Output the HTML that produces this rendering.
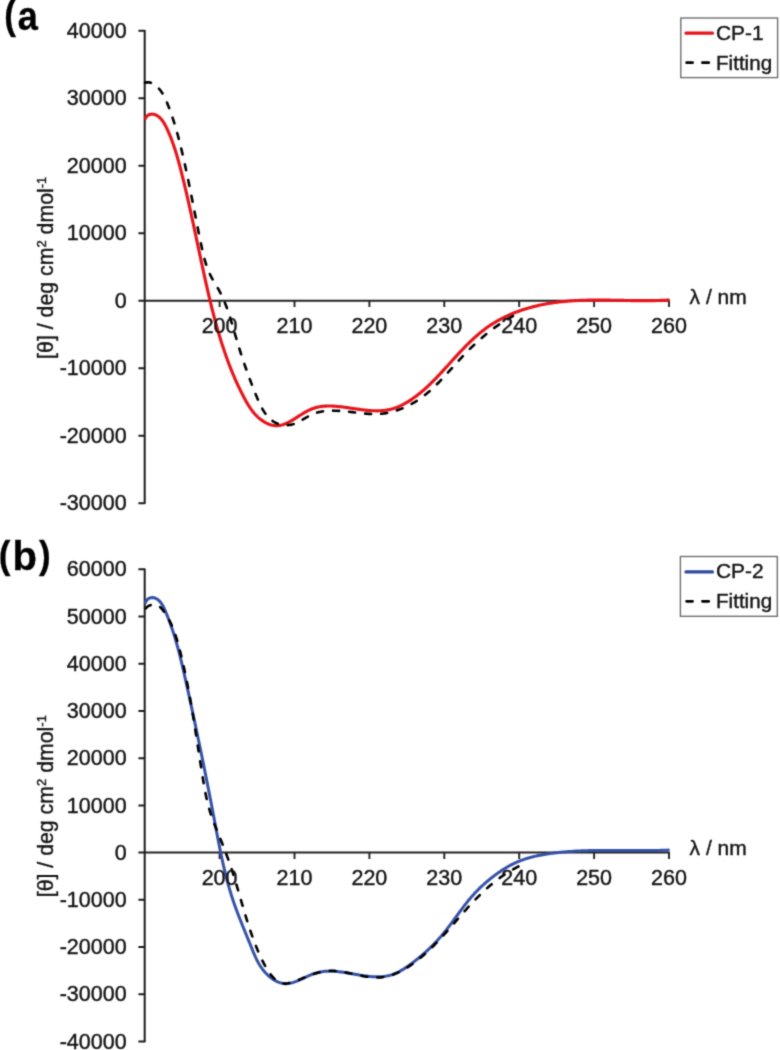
<!DOCTYPE html>
<html><head><meta charset="utf-8"><title>CD spectra</title>
<style>
html,body{margin:0;padding:0;background:#fff;}
body{width:780px;height:1050px;overflow:hidden;font-family:"Liberation Sans", sans-serif;}
svg{display:block;}
text{stroke:#141414;stroke-width:0.4px;}

</style></head><body>
<svg width="780" height="1050" viewBox="0 0 780 1050" font-family='"Liberation Sans", sans-serif' font-size="21.5" fill="#141414">
<defs><filter id="bl" x="0" y="0" width="780" height="1050" filterUnits="userSpaceOnUse" color-interpolation-filters="sRGB"><feConvolveMatrix order="3" kernelMatrix="0.0622 0.2494 0.0622 0.2494 1.0000 0.2494 0.0622 0.2494 0.0622" edgeMode="none"/></filter></defs>
<rect width="780" height="1050" fill="#fff"/>
<g filter="url(#bl)">
<path d="M144.70,30.00 V504.10" stroke="#1c1c1c" stroke-width="2" fill="none"/>
<path d="M144.70,503.30 H138.40 M144.70,435.80 H138.40 M144.70,368.30 H138.40 M144.70,300.80 H138.40 M144.70,233.30 H138.40 M144.70,165.80 H138.40 M144.70,98.30 H138.40 M144.70,30.80 H138.40" stroke="#1c1c1c" stroke-width="2" fill="none"/>
<path d="M144.70,300.80 H669.80" stroke="#222" stroke-width="2" fill="none"/>
<path d="M219.60,300.80 V307.10 M294.50,300.80 V307.10 M369.40,300.80 V307.10 M444.30,300.80 V307.10 M519.20,300.80 V307.10 M594.10,300.80 V307.10 M669.00,300.80 V307.10" stroke="#222" stroke-width="1.9" fill="none"/>
<path d="M144.98,119.44 L145.59,117.98 146.39,116.76 147.34,115.78 148.42,115.04 149.59,114.51 150.81,114.20 152.07,114.11 153.33,114.21 154.56,114.50 155.75,114.95 156.89,115.53 157.97,116.20 158.98,116.97 159.94,117.81 160.84,118.73 161.69,119.71 162.50,120.76 163.26,121.85 163.98,122.99 164.67,124.17 165.33,125.38 165.96,126.62 166.57,127.87 167.16,129.12 167.73,130.38 168.30,131.64 168.84,132.90 169.38,134.16 169.90,135.42 170.41,136.68 170.91,137.94 171.40,139.20 171.87,140.46 172.34,141.72 172.80,142.97 173.24,144.23 173.68,145.49 174.11,146.75 174.52,148.01 174.93,149.27 175.34,150.52 175.73,151.78 176.12,153.04 176.50,154.30 176.87,155.56 177.24,156.82 177.60,158.08 177.96,159.35 178.31,160.61 178.66,161.87 179.00,163.13 179.34,164.40 179.68,165.66 180.01,166.93 180.34,168.19 180.67,169.46 180.99,170.73 181.32,172.00 181.64,173.27 181.96,174.54 182.28,175.81 182.59,177.08 182.91,178.35 183.22,179.62 183.53,180.90 183.84,182.17 184.15,183.45 184.46,184.73 184.77,186.00 185.07,187.28 185.37,188.56 185.68,189.84 185.98,191.12 186.28,192.40 186.57,193.68 186.87,194.96 187.17,196.24 187.46,197.53 187.76,198.81 188.05,200.09 188.34,201.38 188.63,202.66 188.92,203.95 189.21,205.24 189.49,206.52 189.78,207.81 190.07,209.10 190.35,210.39 190.63,211.67 190.92,212.96 191.20,214.25 191.48,215.54 191.76,216.83 192.04,218.12 192.32,219.41 192.60,220.71 192.88,222.00 193.16,223.29 193.44,224.58 193.71,225.87 193.99,227.17 194.27,228.46 194.54,229.75 194.82,231.05 195.10,232.34 195.37,233.63 195.65,234.93 195.92,236.22 196.19,237.52 196.47,238.81 196.74,240.11 197.02,241.40 197.29,242.70 197.57,243.99 197.84,245.29 198.11,246.58 198.39,247.88 198.66,249.17 198.94,250.47 199.21,251.77 199.49,253.06 199.76,254.36 200.04,255.65 200.32,256.95 200.59,258.24 200.87,259.54 201.14,260.83 201.42,262.13 201.70,263.42 201.98,264.72 202.26,266.01 202.54,267.31 202.82,268.60 203.10,269.90 203.38,271.19 203.66,272.49 203.94,273.78 204.23,275.07 204.51,276.37 204.80,277.66 205.08,278.95 205.37,280.25 205.66,281.54 205.95,282.83 206.24,284.12 206.53,285.41 206.82,286.71 207.11,288.00 207.40,289.29 207.70,290.58 208.00,291.87 208.29,293.16 208.59,294.44 208.89,295.73 209.20,297.02 209.50,298.31 209.81,299.59 210.11,300.88 210.42,302.16 210.73,303.45 211.05,304.73 211.36,306.02 211.68,307.30 212.00,308.58 212.32,309.86 212.64,311.14 212.97,312.42 213.29,313.70 213.62,314.98 213.96,316.26 214.29,317.53 214.63,318.81 214.97,320.08 215.31,321.36 215.66,322.63 216.01,323.90 216.36,325.17 216.71,326.44 217.07,327.71 217.43,328.98 217.79,330.25 218.16,331.51 218.52,332.78 218.90,334.04 219.27,335.30 219.65,336.56 220.03,337.82 220.42,339.08 220.81,340.34 221.20,341.60 221.60,342.85 222.00,344.11 222.40,345.36 222.81,346.61 223.22,347.86 223.64,349.11 224.05,350.36 224.48,351.60 224.91,352.85 225.34,354.09 225.77,355.33 226.21,356.57 226.66,357.81 227.11,359.05 227.56,360.28 228.02,361.51 228.48,362.75 228.95,363.98 229.42,365.21 229.89,366.43 230.37,367.66 230.86,368.88 231.35,370.11 231.85,371.33 232.35,372.54 232.85,373.76 233.36,374.98 233.88,376.19 234.40,377.40 234.93,378.61 235.46,379.82 236.00,381.03 236.54,382.23 237.09,383.43 237.64,384.63 238.20,385.83 238.77,387.03 239.34,388.22 239.92,389.41 240.50,390.60 241.09,391.79 241.68,392.98 242.28,394.16 242.89,395.34 243.50,396.52 244.12,397.70 244.75,398.87 245.39,400.04 246.03,401.20 246.69,402.36 247.36,403.51 248.04,404.64 248.74,405.77 249.46,406.88 250.20,407.98 250.95,409.07 251.73,410.14 252.52,411.19 253.35,412.22 254.19,413.23 255.06,414.22 255.96,415.19 256.89,416.13 257.85,417.05 258.84,417.94 259.87,418.80 260.92,419.63 262.01,420.43 263.12,421.18 264.26,421.90 265.42,422.56 266.60,423.18 267.80,423.74 269.02,424.23 270.25,424.67 271.49,425.03 272.73,425.32 273.99,425.54 275.24,425.67 276.50,425.72 277.76,425.68 279.01,425.55 280.26,425.34 281.51,425.06 282.75,424.70 283.99,424.28 285.23,423.80 286.45,423.27 287.68,422.69 288.89,422.08 290.10,421.43 291.30,420.75 292.49,420.05 293.67,419.34 294.84,418.62 296.01,417.89 297.17,417.16 298.32,416.43 299.47,415.70 300.61,414.98 301.75,414.27 302.90,413.57 304.04,412.89 305.19,412.22 306.34,411.58 307.49,410.97 308.65,410.38 309.82,409.83 311.00,409.31 312.18,408.82 313.38,408.38 314.59,407.98 315.81,407.62 317.05,407.30 318.29,407.03 319.54,406.78 320.81,406.58 322.08,406.41 323.36,406.27 324.65,406.16 325.95,406.08 327.25,406.03 328.56,406.00 329.87,406.00 331.19,406.03 332.52,406.07 333.85,406.14 335.18,406.23 336.51,406.33 337.85,406.45 339.19,406.58 340.53,406.73 341.87,406.88 343.21,407.05 344.55,407.23 345.89,407.41 347.23,407.60 348.56,407.79 349.90,407.99 351.23,408.19 352.57,408.39 353.90,408.59 355.23,408.78 356.55,408.98 357.88,409.17 359.20,409.36 360.53,409.54 361.85,409.71 363.17,409.88 364.48,410.04 365.80,410.18 367.11,410.31 368.42,410.44 369.73,410.54 371.03,410.63 372.34,410.71 373.64,410.77 374.93,410.80 376.23,410.82 377.52,410.82 378.81,410.79 380.10,410.74 381.38,410.67 382.66,410.57 383.94,410.45 385.21,410.29 386.48,410.11 387.75,409.89 389.01,409.65 390.28,409.37 391.53,409.06 392.79,408.71 394.04,408.32 395.28,407.90 396.52,407.45 397.76,406.96 398.99,406.44 400.21,405.88 401.43,405.30 402.64,404.70 403.84,404.07 405.03,403.41 406.21,402.74 407.39,402.04 408.55,401.32 409.70,400.59 410.83,399.85 411.96,399.09 413.07,398.32 414.17,397.54 415.25,396.75 416.32,395.96 417.38,395.15 418.42,394.34 419.45,393.52 420.47,392.70 421.48,391.87 422.47,391.02 423.46,390.18 424.44,389.32 425.41,388.46 426.37,387.59 427.32,386.72 428.27,385.83 429.21,384.94 430.14,384.05 431.07,383.14 431.99,382.23 432.91,381.32 433.83,380.39 434.74,379.46 435.65,378.53 436.56,377.59 437.47,376.64 438.37,375.69 439.27,374.73 440.17,373.77 441.07,372.81 441.97,371.84 442.87,370.86 443.76,369.89 444.66,368.91 445.55,367.93 446.44,366.95 447.34,365.96 448.23,364.98 449.13,363.99 450.02,363.00 450.92,362.01 451.81,361.02 452.71,360.03 453.61,359.04 454.51,358.06 455.41,357.07 456.31,356.09 457.22,355.10 458.12,354.12 459.03,353.14 459.95,352.17 460.86,351.19 461.78,350.23 462.70,349.26 463.62,348.30 464.55,347.34 465.49,346.39 466.42,345.44 467.36,344.50 468.31,343.56 469.26,342.63 470.21,341.71 471.17,340.79 472.13,339.88 473.10,338.98 474.08,338.09 475.06,337.20 476.05,336.32 477.04,335.45 478.04,334.59 479.04,333.74 480.06,332.90 481.08,332.07 482.10,331.25 483.14,330.44 484.18,329.64 485.23,328.85 486.28,328.07 487.35,327.31 488.42,326.56 489.50,325.82 490.59,325.09 491.69,324.37 492.80,323.67 493.91,322.98 495.03,322.30 496.16,321.64 497.30,320.98 498.44,320.34 499.59,319.71 500.75,319.09 501.91,318.48 503.08,317.88 504.26,317.30 505.44,316.73 506.63,316.17 507.82,315.61 509.02,315.08 510.23,314.55 511.44,314.03 512.66,313.52 513.88,313.03 515.11,312.55 516.34,312.07 517.57,311.61 518.81,311.16 520.06,310.72 521.31,310.29 522.56,309.86 523.82,309.45 525.08,309.05 526.35,308.66 527.62,308.29 528.89,307.92 530.16,307.56 531.44,307.21 532.72,306.87 534.01,306.54 535.29,306.22 536.58,305.91 537.87,305.60 539.16,305.31 540.46,305.03 541.76,304.76 543.06,304.49 544.36,304.24 545.66,303.99 546.96,303.76 548.26,303.53 549.57,303.31 550.87,303.10 552.18,302.90 553.49,302.71 554.79,302.53 556.10,302.35 557.41,302.18 558.72,302.02 560.03,301.87 561.34,301.73 562.65,301.59 563.97,301.46 565.28,301.34 566.59,301.22 567.90,301.11 569.22,301.01 570.53,300.91 571.85,300.82 573.16,300.74 574.48,300.66 575.80,300.59 577.11,300.52 578.43,300.46 579.75,300.40 581.07,300.35 582.39,300.31 583.71,300.26 585.02,300.23 586.34,300.20 587.66,300.17 588.98,300.14 590.31,300.12 591.63,300.11 592.95,300.09 594.27,300.09 595.59,300.08 596.91,300.08 598.24,300.08 599.56,300.08 600.88,300.09 602.20,300.10 603.53,300.11 604.85,300.12 606.17,300.13 607.50,300.15 608.82,300.17 610.14,300.19 611.47,300.21 612.79,300.23 614.11,300.25 615.44,300.28 616.76,300.30 618.09,300.33 619.41,300.35 620.73,300.38 622.06,300.41 623.38,300.43 624.70,300.46 626.03,300.48 627.35,300.51 628.67,300.53 630.00,300.55 631.32,300.57 632.64,300.59 633.97,300.61 635.29,300.63 636.61,300.64 637.93,300.66 639.26,300.67 640.58,300.68 641.90,300.68 643.22,300.69 644.54,300.69 645.86,300.69 647.18,300.68 648.51,300.67 649.83,300.66 651.14,300.65 652.46,300.63 653.78,300.61 655.10,300.58 656.42,300.55 657.74,300.51 659.06,300.47 660.37,300.43 661.69,300.38 663.00,300.32 664.32,300.26 665.64,300.20 666.95,300.13 668.26,300.05 669.58,299.97" stroke="#e8141b" stroke-width="3.15" fill="none" stroke-linejoin="round"/>
<path d="M144.99,82.73 L146.45,82.38 147.86,82.27 149.22,82.37 150.52,82.65 151.77,83.09 152.97,83.66 154.11,84.35 155.20,85.12 156.24,85.94 157.23,86.83 158.17,87.76 159.06,88.73 159.91,89.75 160.72,90.81 161.49,91.90 162.23,93.02 162.93,94.18 163.60,95.36 164.24,96.57 164.86,97.80 165.45,99.05 166.02,100.31 166.57,101.58 167.11,102.86 167.63,104.14 168.14,105.43 168.64,106.72 169.13,108.01 169.61,109.30 170.09,110.58 170.56,111.87 171.01,113.15 171.46,114.44 171.91,115.73 172.34,117.01 172.77,118.30 173.19,119.58 173.61,120.87 174.01,122.15 174.42,123.44 174.81,124.73 175.20,126.01 175.58,127.30 175.96,128.59 176.33,129.87 176.70,131.16 177.06,132.45 177.42,133.74 177.77,135.03 178.11,136.32 178.46,137.61 178.80,138.90 179.13,140.19 179.46,141.48 179.79,142.78 180.11,144.07 180.43,145.37 180.75,146.67 181.07,147.96 181.38,149.26 181.69,150.56 182.00,151.87 182.31,153.17 182.61,154.47 182.91,155.78 183.21,157.08 183.51,158.39 183.81,159.70 184.10,161.01 184.40,162.32 184.69,163.63 184.98,164.95 185.27,166.26 185.55,167.57 185.84,168.89 186.12,170.21 186.40,171.52 186.69,172.84 186.97,174.16 187.24,175.48 187.52,176.80 187.80,178.12 188.07,179.44 188.35,180.77 188.62,182.09 188.89,183.41 189.16,184.74 189.43,186.06 189.70,187.39 189.97,188.71 190.24,190.04 190.51,191.37 190.77,192.69 191.04,194.02 191.30,195.35 191.57,196.68 191.83,198.00 192.10,199.33 192.36,200.66 192.62,201.99 192.88,203.32 193.15,204.65 193.41,205.98 193.67,207.31 193.93,208.64 194.19,209.97 194.46,211.30 194.72,212.63 194.98,213.96 195.24,215.28 195.51,216.61 195.77,217.94 196.03,219.27 196.29,220.60 196.56,221.93 196.82,223.26 197.08,224.58 197.35,225.91 197.61,227.24 197.88,228.57 198.15,229.89 198.41,231.22 198.68,232.54 198.95,233.87 199.22,235.19 199.49,236.52 199.76,237.84 200.03,239.16 200.31,240.49 200.58,241.81 200.86,243.13 201.13,244.45 201.41,245.77 201.69,247.09 201.97,248.40 202.26,249.72 202.55,251.03 202.84,252.34 203.15,253.65 203.46,254.96 203.78,256.26 204.11,257.56 204.45,258.86 204.80,260.15 205.17,261.44 205.55,262.72 205.95,264.00 206.36,265.27 206.80,266.54 207.25,267.80 207.72,269.05 208.21,270.30 208.72,271.54 209.26,272.77 209.82,273.99 210.40,275.21 211.01,276.42 211.65,277.62 212.31,278.81 212.98,280.00 213.67,281.18 214.37,282.36 215.08,283.54 215.78,284.71 216.49,285.89 217.19,287.06 217.88,288.24 218.56,289.42 219.22,290.60 219.86,291.79 220.48,292.99 221.09,294.18 221.68,295.38 222.25,296.59 222.81,297.80 223.36,299.02 223.89,300.24 224.40,301.47 224.91,302.70 225.40,303.94 225.88,305.18 226.35,306.43 226.81,307.68 227.26,308.94 227.70,310.20 228.14,311.47 228.56,312.74 228.98,314.02 229.40,315.31 229.81,316.60 230.21,317.89 230.61,319.19 231.01,320.50 231.41,321.81 231.80,323.13 232.19,324.45 232.58,325.77 232.97,327.10 233.36,328.42 233.74,329.75 234.13,331.07 234.51,332.40 234.89,333.72 235.28,335.03 235.66,336.35 236.05,337.66 236.43,338.96 236.82,340.26 237.21,341.55 237.59,342.84 237.98,344.13 238.38,345.41 238.77,346.69 239.16,347.96 239.56,349.23 239.96,350.50 240.36,351.76 240.76,353.02 241.16,354.28 241.57,355.54 241.98,356.80 242.39,358.05 242.81,359.30 243.22,360.55 243.64,361.80 244.06,363.05 244.49,364.30 244.92,365.55 245.35,366.79 245.78,368.04 246.22,369.29 246.66,370.54 247.11,371.79 247.56,373.04 248.01,374.29 248.47,375.55 248.93,376.80 249.39,378.06 249.86,379.32 250.34,380.58 250.81,381.85 251.30,383.12 251.78,384.39 252.27,385.66 252.77,386.94 253.27,388.22 253.78,389.51 254.29,390.80 254.81,392.10 255.33,393.40 255.86,394.70 256.39,396.01 256.94,397.33 257.49,398.64 258.05,399.95 258.62,401.25 259.20,402.54 259.80,403.82 260.41,405.09 261.05,406.35 261.69,407.58 262.36,408.80 263.05,409.99 263.76,411.15 264.50,412.29 265.26,413.40 266.04,414.47 266.85,415.50 267.69,416.50 268.57,417.46 269.47,418.37 270.40,419.24 271.37,420.05 272.38,420.82 273.42,421.53 274.50,422.19 275.62,422.78 276.78,423.32 277.98,423.79 279.23,424.20 280.51,424.54 281.83,424.80 283.17,425.00 284.53,425.13 285.90,425.18 287.28,425.16 288.65,425.06 290.02,424.88 291.36,424.63 292.69,424.29 293.98,423.88 295.25,423.39 296.50,422.85 297.73,422.26 298.95,421.64 300.15,420.98 301.34,420.31 302.53,419.64 303.72,418.96 304.90,418.29 306.09,417.62 307.27,416.97 308.46,416.33 309.65,415.72 310.85,415.12 312.06,414.56 313.28,414.02 314.51,413.52 315.75,413.07 317.01,412.65 318.29,412.28 319.57,411.96 320.88,411.68 322.19,411.44 323.51,411.24 324.84,411.07 326.18,410.93 327.53,410.83 328.88,410.75 330.23,410.70 331.58,410.67 332.94,410.66 334.29,410.68 335.65,410.71 337.01,410.76 338.37,410.83 339.73,410.92 341.09,411.02 342.46,411.13 343.82,411.25 345.18,411.39 346.55,411.53 347.91,411.68 349.28,411.83 350.64,411.99 352.00,412.15 353.37,412.32 354.73,412.48 356.09,412.64 357.46,412.81 358.82,412.96 360.18,413.11 361.54,413.26 362.90,413.40 364.26,413.53 365.61,413.64 366.97,413.75 368.32,413.84 369.67,413.92 371.02,413.98 372.37,414.02 373.71,414.05 375.05,414.05 376.39,414.03 377.73,413.99 379.07,413.93 380.40,413.84 381.73,413.72 383.06,413.58 384.38,413.41 385.70,413.21 387.01,412.98 388.32,412.73 389.63,412.46 390.93,412.16 392.23,411.83 393.52,411.48 394.81,411.11 396.09,410.71 397.36,410.29 398.63,409.85 399.90,409.39 401.15,408.91 402.40,408.40 403.64,407.88 404.88,407.33 406.10,406.76 407.32,406.18 408.53,405.58 409.73,404.95 410.92,404.31 412.11,403.66 413.28,402.98 414.45,402.29 415.60,401.58 416.74,400.86 417.88,400.12 419.00,399.37 420.12,398.60 421.22,397.82 422.31,397.02 423.39,396.21 424.45,395.39 425.51,394.55 426.56,393.71 427.59,392.85 428.61,391.98 429.63,391.10 430.64,390.21 431.63,389.31 432.62,388.40 433.60,387.48 434.57,386.55 435.54,385.62 436.50,384.67 437.45,383.72 438.39,382.77 439.33,381.80 440.27,380.83 441.20,379.86 442.12,378.88 443.05,377.89 443.96,376.90 444.88,375.91 445.79,374.91 446.70,373.91 447.61,372.91 448.51,371.90 449.42,370.90 450.32,369.89 451.23,368.88 452.13,367.87 453.03,366.86 453.94,365.85 454.84,364.84 455.75,363.84 456.66,362.83 457.57,361.83 458.49,360.83 459.40,359.83 460.32,358.83 461.25,357.84 462.18,356.85 463.11,355.87 464.04,354.89 464.98,353.91 465.93,352.94 466.87,351.97 467.82,351.01 468.78,350.04 469.74,349.09 470.70,348.14 471.67,347.19 472.64,346.25 473.62,345.32 474.60,344.39 475.59,343.46 476.58,342.54 477.57,341.63 478.57,340.72 479.58,339.82 480.59,338.92 481.61,338.03 482.63,337.15 483.66,336.28 484.69,335.41 485.73,334.55 486.77,333.69 487.82,332.84 488.88,332.00 489.94,331.17 491.00,330.35 492.08,329.53 493.16,328.72 494.24,327.92 495.33,327.13 496.43,326.35 497.54,325.57 498.65,324.81 499.76,324.05 500.89,323.30 502.02,322.56 503.15,321.83 504.29,321.12 505.44,320.41 506.59,319.71 507.75,319.02 508.91,318.34 510.08,317.67 511.26,317.02 512.44,316.37 513.63,315.74 514.82,315.11 516.01,314.50 517.22,313.90 518.42,313.31" stroke="#000" stroke-width="2.6" fill="none" stroke-dasharray="6 10.1" stroke-linecap="round" stroke-linejoin="round"/>
<text x="126.6" y="510.40" text-anchor="end">-30000</text>
<text x="126.6" y="442.90" text-anchor="end">-20000</text>
<text x="126.6" y="375.40" text-anchor="end">-10000</text>
<text x="126.6" y="307.90" text-anchor="end">0</text>
<text x="126.6" y="240.40" text-anchor="end">10000</text>
<text x="126.6" y="172.90" text-anchor="end">20000</text>
<text x="126.6" y="105.40" text-anchor="end">30000</text>
<text x="126.6" y="37.90" text-anchor="end">40000</text>
<text x="219.60" y="333.20" text-anchor="middle">200</text>
<text x="294.50" y="333.20" text-anchor="middle">210</text>
<text x="369.40" y="333.20" text-anchor="middle">220</text>
<text x="444.30" y="333.20" text-anchor="middle">230</text>
<text x="519.20" y="333.20" text-anchor="middle">240</text>
<text x="594.10" y="333.20" text-anchor="middle">250</text>
<text x="669.00" y="333.20" text-anchor="middle">260</text>
<text x="689.6" y="303.60" font-size="21">&#955; / nm</text>
<path d="M144.70,568.50 V1042.30" stroke="#1c1c1c" stroke-width="2" fill="none"/>
<path d="M144.70,1041.50 H138.40 M144.70,994.28 H138.40 M144.70,947.06 H138.40 M144.70,899.84 H138.40 M144.70,852.62 H138.40 M144.70,805.40 H138.40 M144.70,758.18 H138.40 M144.70,710.96 H138.40 M144.70,663.74 H138.40 M144.70,616.52 H138.40 M144.70,569.30 H138.40" stroke="#1c1c1c" stroke-width="2" fill="none"/>
<path d="M144.70,852.62 H669.80" stroke="#222" stroke-width="2" fill="none"/>
<path d="M219.60,852.62 V858.92 M294.50,852.62 V858.92 M369.40,852.62 V858.92 M444.30,852.62 V858.92 M519.20,852.62 V858.92 M594.10,852.62 V858.92 M669.00,852.62 V858.92" stroke="#222" stroke-width="1.9" fill="none"/>
<path d="M145.19,603.64 L145.64,602.03 146.38,600.66 147.35,599.53 148.50,598.64 149.78,598.02 151.14,597.65 152.54,597.57 153.91,597.75 155.24,598.18 156.50,598.78 157.67,599.53 158.73,600.38 159.72,601.35 160.62,602.40 161.46,603.53 162.23,604.74 162.95,606.00 163.63,607.31 164.27,608.65 164.88,610.02 165.48,611.40 166.06,612.78 166.63,614.16 167.19,615.54 167.74,616.92 168.28,618.30 168.81,619.69 169.34,621.07 169.85,622.45 170.35,623.84 170.85,625.22 171.33,626.60 171.81,627.99 172.28,629.37 172.74,630.76 173.20,632.14 173.64,633.53 174.08,634.91 174.52,636.30 174.94,637.69 175.36,639.07 175.77,640.46 176.17,641.85 176.57,643.24 176.97,644.63 177.35,646.02 177.74,647.41 178.11,648.79 178.48,650.19 178.85,651.58 179.21,652.97 179.57,654.36 179.92,655.75 180.27,657.14 180.62,658.53 180.96,659.93 181.29,661.32 181.63,662.71 181.96,664.11 182.29,665.50 182.61,666.90 182.94,668.29 183.26,669.69 183.58,671.08 183.89,672.48 184.21,673.88 184.52,675.27 184.84,676.67 185.15,678.07 185.46,679.47 185.77,680.87 186.08,682.26 186.39,683.66 186.70,685.06 187.01,686.47 187.32,687.87 187.63,689.27 187.93,690.67 188.24,692.07 188.55,693.47 188.86,694.88 189.16,696.28 189.47,697.68 189.77,699.09 190.08,700.49 190.39,701.90 190.69,703.30 190.99,704.71 191.30,706.11 191.60,707.52 191.90,708.92 192.21,710.33 192.51,711.74 192.81,713.15 193.11,714.55 193.41,715.96 193.72,717.37 194.02,718.78 194.32,720.19 194.62,721.60 194.92,723.01 195.21,724.42 195.51,725.83 195.81,727.24 196.11,728.65 196.41,730.06 196.70,731.47 197.00,732.88 197.29,734.29 197.59,735.70 197.89,737.11 198.18,738.53 198.47,739.94 198.77,741.35 199.06,742.76 199.35,744.18 199.65,745.59 199.94,747.00 200.23,748.42 200.52,749.83 200.81,751.24 201.10,752.66 201.39,754.07 201.68,755.49 201.97,756.90 202.26,758.32 202.55,759.73 202.84,761.15 203.12,762.56 203.41,763.98 203.70,765.39 203.98,766.81 204.27,768.22 204.55,769.64 204.84,771.05 205.12,772.47 205.41,773.89 205.69,775.30 205.97,776.72 206.26,778.13 206.54,779.55 206.82,780.97 207.10,782.38 207.38,783.80 207.66,785.22 207.94,786.63 208.22,788.05 208.50,789.47 208.77,790.88 209.05,792.30 209.33,793.72 209.60,795.13 209.88,796.55 210.16,797.97 210.43,799.38 210.71,800.80 210.98,802.22 211.25,803.63 211.53,805.05 211.80,806.47 212.07,807.88 212.34,809.30 212.61,810.72 212.88,812.13 213.15,813.55 213.42,814.97 213.69,816.38 213.96,817.80 214.23,819.22 214.50,820.63 214.76,822.05 215.03,823.46 215.29,824.88 215.56,826.30 215.83,827.71 216.09,829.13 216.36,830.54 216.63,831.96 216.90,833.37 217.16,834.79 217.43,836.20 217.70,837.61 217.98,839.03 218.25,840.44 218.52,841.85 218.80,843.26 219.08,844.67 219.36,846.08 219.64,847.50 219.92,848.90 220.21,850.31 220.49,851.72 220.78,853.13 221.08,854.54 221.37,855.94 221.67,857.35 221.97,858.75 222.28,860.16 222.59,861.56 222.90,862.96 223.21,864.37 223.53,865.77 223.85,867.17 224.18,868.57 224.51,869.96 224.85,871.36 225.19,872.76 225.53,874.15 225.88,875.55 226.23,876.94 226.59,878.33 226.95,879.72 227.32,881.11 227.69,882.50 228.07,883.89 228.46,885.27 228.85,886.66 229.24,888.04 229.64,889.42 230.05,890.80 230.47,892.18 230.89,893.56 231.31,894.94 231.75,896.31 232.19,897.69 232.63,899.06 233.09,900.43 233.55,901.80 234.02,903.17 234.50,904.53 234.98,905.90 235.47,907.26 235.96,908.62 236.46,909.98 236.96,911.34 237.47,912.70 237.99,914.06 238.51,915.41 239.03,916.76 239.56,918.11 240.09,919.46 240.62,920.81 241.16,922.16 241.70,923.51 242.24,924.85 242.78,926.20 243.32,927.54 243.87,928.88 244.42,930.22 244.96,931.56 245.51,932.90 246.06,934.23 246.61,935.57 247.16,936.90 247.70,938.23 248.25,939.57 248.79,940.90 249.33,942.22 249.87,943.55 250.41,944.88 250.95,946.21 251.48,947.53 252.01,948.85 252.54,950.17 253.08,951.49 253.62,952.81 254.18,954.11 254.74,955.42 255.32,956.71 255.91,958.00 256.53,959.28 257.16,960.55 257.83,961.81 258.51,963.06 259.23,964.30 259.98,965.52 260.77,966.73 261.59,967.93 262.45,969.11 263.36,970.28 264.31,971.43 265.30,972.56 266.34,973.66 267.41,974.73 268.52,975.76 269.66,976.76 270.84,977.70 272.04,978.60 273.27,979.44 274.53,980.22 275.81,980.93 277.10,981.57 278.42,982.13 279.75,982.62 281.09,983.01 282.44,983.32 283.79,983.52 285.16,983.63 286.52,983.63 287.89,983.54 289.26,983.36 290.63,983.09 292.00,982.76 293.37,982.36 294.74,981.91 296.11,981.41 297.47,980.87 298.84,980.29 300.20,979.70 301.57,979.08 302.93,978.45 304.30,977.81 305.66,977.17 307.03,976.54 308.39,975.92 309.76,975.32 311.12,974.74 312.49,974.20 313.86,973.70 315.24,973.24 316.61,972.84 317.99,972.48 319.37,972.17 320.75,971.90 322.14,971.68 323.53,971.50 324.92,971.36 326.31,971.26 327.70,971.20 329.10,971.17 330.50,971.17 331.91,971.20 333.31,971.26 334.72,971.34 336.14,971.46 337.55,971.59 338.97,971.74 340.39,971.92 341.82,972.11 343.25,972.31 344.68,972.53 346.11,972.76 347.55,973.00 348.99,973.25 350.44,973.50 351.89,973.76 353.34,974.02 354.79,974.27 356.25,974.53 357.71,974.78 359.17,975.03 360.64,975.27 362.10,975.50 363.56,975.72 365.02,975.92 366.48,976.11 367.94,976.28 369.40,976.44 370.85,976.57 372.30,976.68 373.75,976.76 375.19,976.82 376.62,976.84 378.05,976.84 379.47,976.81 380.89,976.74 382.30,976.63 383.69,976.49 385.08,976.30 386.47,976.07 387.84,975.80 389.20,975.49 390.55,975.12 391.88,974.71 393.21,974.25 394.52,973.74 395.83,973.19 397.12,972.61 398.40,971.98 399.68,971.33 400.94,970.63 402.19,969.91 403.43,969.16 404.66,968.39 405.89,967.59 407.10,966.77 408.30,965.94 409.50,965.08 410.69,964.22 411.86,963.34 413.03,962.45 414.20,961.56 415.35,960.66 416.49,959.76 417.63,958.84 418.76,957.93 419.88,957.00 420.99,956.07 422.10,955.13 423.19,954.18 424.28,953.23 425.36,952.27 426.43,951.30 427.49,950.33 428.54,949.34 429.59,948.35 430.63,947.36 431.65,946.35 432.67,945.34 433.68,944.32 434.68,943.29 435.68,942.25 436.66,941.21 437.63,940.16 438.60,939.10 439.56,938.03 440.51,936.95 441.45,935.86 442.38,934.77 443.30,933.67 444.21,932.55 445.12,931.43 446.01,930.31 446.90,929.17 447.79,928.03 448.67,926.89 449.54,925.74 450.41,924.58 451.27,923.42 452.13,922.26 452.99,921.10 453.84,919.93 454.70,918.76 455.55,917.59 456.40,916.42 457.25,915.25 458.10,914.09 458.96,912.92 459.81,911.75 460.67,910.59 461.53,909.43 462.39,908.27 463.26,907.12 464.13,905.97 465.01,904.83 465.90,903.69 466.79,902.56 467.68,901.44 468.59,900.32 469.50,899.22 470.42,898.12 471.35,897.03 472.29,895.95 473.24,894.88 474.20,893.82 475.17,892.77 476.15,891.74 477.15,890.71 478.15,889.69 479.16,888.68 480.19,887.69 481.22,886.70 482.26,885.72 483.32,884.76 484.38,883.80 485.46,882.85 486.54,881.91 487.64,880.98 488.74,880.06 489.86,879.15 490.98,878.25 492.12,877.36 493.26,876.47 494.41,875.60 495.58,874.73 496.75,873.88 497.93,873.04 499.12,872.20 500.32,871.39 501.53,870.58 502.75,869.79 503.98,869.01 505.22,868.25 506.46,867.50 507.72,866.77 508.98,866.06 510.26,865.37 511.54,864.69 512.83,864.04 514.12,863.40 515.43,862.79 516.74,862.20 518.07,861.63 519.40,861.08 520.74,860.56 522.08,860.05 523.44,859.57 524.80,859.11 526.16,858.67 527.54,858.25 528.92,857.85 530.30,857.46 531.69,857.09 533.08,856.74 534.48,856.41 535.89,856.09 537.29,855.78 538.70,855.49 540.12,855.21 541.53,854.94 542.95,854.69 544.37,854.44 545.79,854.21 547.22,853.99 548.64,853.77 550.07,853.57 551.49,853.37 552.92,853.18 554.35,853.00 555.78,852.82 557.21,852.66 558.64,852.50 560.07,852.35 561.50,852.20 562.93,852.06 564.37,851.93 565.80,851.81 567.23,851.69 568.67,851.58 570.10,851.48 571.54,851.38 572.98,851.29 574.42,851.20 575.85,851.12 577.29,851.04 578.73,850.97 580.17,850.91 581.61,850.84 583.05,850.79 584.49,850.74 585.93,850.69 587.37,850.65 588.82,850.61 590.26,850.57 591.70,850.54 593.14,850.52 594.59,850.49 596.03,850.47 597.47,850.46 598.92,850.44 600.36,850.43 601.80,850.42 603.25,850.41 604.69,850.41 606.14,850.41 607.58,850.41 609.03,850.41 610.47,850.41 611.92,850.42 613.36,850.43 614.81,850.43 616.25,850.44 617.70,850.45 619.14,850.46 620.59,850.47 622.03,850.49 623.48,850.50 624.92,850.51 626.37,850.52 627.81,850.53 629.26,850.54 630.70,850.55 632.15,850.56 633.59,850.57 635.03,850.58 636.48,850.59 637.92,850.59 639.36,850.59 640.81,850.60 642.25,850.60 643.69,850.59 645.13,850.59 646.57,850.58 648.01,850.57 649.45,850.56 650.89,850.55 652.33,850.53 653.77,850.51 655.21,850.48 656.65,850.45 658.09,850.42 659.52,850.39 660.96,850.35 662.40,850.30 663.83,850.26 665.27,850.21 666.70,850.15 668.13,850.09 669.57,850.02" stroke="#3552a8" stroke-width="3.0" fill="none" stroke-linejoin="round"/>
<path d="M145.80,608.31 L146.67,607.31 147.78,606.44 149.08,605.71 150.50,605.15 151.99,604.76 153.50,604.58 154.96,604.61 156.32,604.87 157.58,605.35 158.75,606.00 159.84,606.82 160.86,607.76 161.81,608.80 162.72,609.92 163.59,611.08 164.42,612.25 165.23,613.44 166.01,614.64 166.77,615.85 167.50,617.08 168.20,618.31 168.88,619.56 169.54,620.82 170.18,622.08 170.79,623.36 171.39,624.64 171.96,625.94 172.52,627.24 173.06,628.55 173.58,629.86 174.08,631.19 174.57,632.52 175.04,633.85 175.50,635.20 175.94,636.54 176.37,637.90 176.79,639.25 177.20,640.62 177.60,641.98 177.99,643.35 178.37,644.72 178.75,646.10 179.11,647.47 179.47,648.85 179.82,650.23 180.17,651.61 180.52,652.99 180.86,654.37 181.20,655.76 181.53,657.14 181.86,658.52 182.19,659.91 182.51,661.29 182.84,662.68 183.15,664.06 183.47,665.45 183.78,666.84 184.08,668.22 184.39,669.61 184.69,671.00 184.99,672.39 185.28,673.78 185.57,675.16 185.86,676.55 186.15,677.94 186.43,679.34 186.71,680.73 186.99,682.12 187.26,683.51 187.54,684.90 187.81,686.30 188.07,687.69 188.34,689.08 188.60,690.48 188.86,691.87 189.12,693.27 189.38,694.66 189.63,696.06 189.89,697.45 190.14,698.85 190.39,700.24 190.63,701.64 190.88,703.04 191.12,704.43 191.36,705.83 191.60,707.23 191.84,708.63 192.08,710.03 192.31,711.43 192.54,712.83 192.78,714.22 193.01,715.62 193.24,717.02 193.46,718.42 193.69,719.82 193.92,721.23 194.14,722.63 194.37,724.03 194.59,725.43 194.81,726.83 195.04,728.23 195.26,729.63 195.48,731.03 195.70,732.44 195.91,733.84 196.13,735.24 196.35,736.64 196.57,738.05 196.79,739.45 197.00,740.85 197.22,742.26 197.43,743.66 197.65,745.06 197.87,746.47 198.08,747.87 198.30,749.27 198.52,750.68 198.73,752.08 198.95,753.49 199.17,754.89 199.38,756.29 199.60,757.70 199.82,759.10 200.04,760.51 200.25,761.91 200.47,763.31 200.69,764.72 200.91,766.12 201.14,767.53 201.36,768.93 201.58,770.34 201.81,771.74 202.03,773.14 202.26,774.55 202.48,775.95 202.71,777.36 202.94,778.76 203.17,780.17 203.41,781.57 203.64,782.97 203.88,784.38 204.12,785.78 204.37,787.18 204.62,788.58 204.87,789.98 205.14,791.37 205.41,792.77 205.68,794.16 205.96,795.55 206.26,796.94 206.56,798.33 206.87,799.72 207.19,801.10 207.52,802.48 207.86,803.86 208.21,805.23 208.57,806.60 208.95,807.97 209.34,809.33 209.75,810.69 210.17,812.04 210.60,813.39 211.04,814.74 211.50,816.09 211.96,817.43 212.44,818.77 212.93,820.10 213.42,821.44 213.92,822.77 214.43,824.10 214.94,825.42 215.46,826.75 215.99,828.07 216.52,829.39 217.05,830.71 217.58,832.03 218.12,833.35 218.66,834.67 219.19,835.99 219.73,837.30 220.27,838.62 220.80,839.93 221.33,841.25 221.86,842.57 222.38,843.88 222.90,845.20 223.41,846.52 223.93,847.84 224.44,849.16 224.94,850.48 225.44,851.80 225.94,853.12 226.43,854.44 226.92,855.77 227.41,857.09 227.89,858.42 228.37,859.75 228.84,861.08 229.31,862.41 229.77,863.75 230.23,865.08 230.69,866.42 231.14,867.76 231.58,869.11 232.02,870.45 232.46,871.80 232.90,873.15 233.33,874.50 233.75,875.86 234.17,877.21 234.59,878.57 235.01,879.93 235.43,881.29 235.84,882.65 236.25,884.01 236.65,885.38 237.06,886.74 237.46,888.11 237.86,889.47 238.26,890.84 238.66,892.21 239.06,893.58 239.46,894.95 239.86,896.32 240.25,897.69 240.65,899.05 241.05,900.42 241.45,901.79 241.84,903.16 242.24,904.53 242.64,905.90 243.04,907.27 243.44,908.63 243.85,910.00 244.25,911.37 244.66,912.73 245.07,914.09 245.48,915.46 245.89,916.82 246.31,918.18 246.73,919.54 247.15,920.89 247.58,922.25 248.01,923.60 248.44,924.95 248.88,926.30 249.32,927.65 249.76,929.00 250.21,930.34 250.67,931.68 251.13,933.02 251.59,934.35 252.06,935.69 252.54,937.02 253.02,938.35 253.51,939.67 254.00,940.99 254.50,942.31 255.01,943.62 255.52,944.94 256.04,946.24 256.57,947.55 257.10,948.85 257.64,950.15 258.19,951.44 258.75,952.73 259.32,954.01 259.89,955.29 260.47,956.57 261.07,957.84 261.67,959.11 262.28,960.37 262.90,961.63 263.53,962.89 264.18,964.14 264.85,965.39 265.55,966.63 266.27,967.88 267.03,969.13 267.82,970.37 268.65,971.62 269.52,972.87 270.44,974.11 271.39,975.35 272.39,976.55 273.43,977.71 274.51,978.81 275.63,979.83 276.77,980.75 277.95,981.57 279.16,982.27 280.39,982.82 281.65,983.22 282.93,983.47 284.23,983.59 285.55,983.58 286.89,983.47 288.23,983.26 289.59,982.97 290.95,982.60 292.31,982.18 293.68,981.72 295.04,981.23 296.40,980.72 297.76,980.20 299.11,979.67 300.45,979.14 301.80,978.61 303.13,978.07 304.47,977.54 305.80,977.00 307.13,976.48 308.46,975.96 309.79,975.46 311.12,974.97 312.45,974.49 313.78,974.03 315.11,973.59 316.44,973.18 317.77,972.79 319.11,972.43 320.45,972.09 321.79,971.79 323.14,971.53 324.49,971.30 325.85,971.11 327.21,970.96 328.58,970.85 329.95,970.79 331.33,970.77 332.72,970.79 334.11,970.85 335.50,970.94 336.90,971.06 338.31,971.22 339.72,971.40 341.13,971.60 342.54,971.83 343.96,972.07 345.38,972.33 346.80,972.61 348.23,972.90 349.65,973.20 351.08,973.51 352.51,973.82 353.94,974.14 355.36,974.45 356.79,974.77 358.22,975.07 359.65,975.38 361.08,975.67 362.50,975.95 363.93,976.21 365.35,976.46 366.77,976.69 368.19,976.89 369.60,977.08 371.01,977.23 372.42,977.36 373.82,977.45 375.22,977.52 376.61,977.54 378.00,977.53 379.39,977.47 380.77,977.37 382.14,977.23 383.51,977.04 384.87,976.82 386.22,976.55 387.57,976.24 388.91,975.90 390.25,975.52 391.58,975.10 392.90,974.65 394.21,974.17 395.52,973.65 396.82,973.11 398.11,972.53 399.39,971.92 400.67,971.29 401.94,970.63 403.20,969.94 404.45,969.23 405.69,968.50 406.92,967.74 408.15,966.97 409.36,966.17 410.57,965.36 411.76,964.53 412.95,963.68 414.13,962.81 415.30,961.93 416.45,961.04 417.60,960.14 418.74,959.23 419.86,958.30 420.98,957.37 422.08,956.43 423.18,955.49 424.26,954.53 425.33,953.58 426.40,952.61 427.45,951.64 428.50,950.67 429.53,949.69 430.56,948.70 431.58,947.71 432.59,946.71 433.59,945.71 434.59,944.71 435.57,943.70 436.56,942.68 437.53,941.67 438.50,940.64 439.47,939.62 440.43,938.59 441.38,937.56 442.33,936.52 443.28,935.48 444.22,934.44 445.16,933.40 446.10,932.35 447.03,931.30 447.96,930.25 448.89,929.20 449.81,928.14 450.74,927.09 451.66,926.03 452.58,924.97 453.50,923.91 454.42,922.85 455.35,921.78 456.27,920.72 457.19,919.66 458.12,918.60 459.04,917.53 459.97,916.47 460.90,915.40 461.83,914.34 462.77,913.28 463.70,912.22 464.65,911.16 465.59,910.10 466.54,909.04 467.49,907.98 468.45,906.93 469.41,905.88 470.38,904.83 471.35,903.78 472.32,902.74 473.30,901.70 474.29,900.67 475.28,899.64 476.27,898.61 477.27,897.59 478.28,896.58 479.29,895.57 480.31,894.56 481.33,893.57 482.36,892.58 483.40,891.59 484.44,890.62 485.49,889.65 486.55,888.69 487.61,887.73 488.68,886.79 489.75,885.85 490.84,884.93 491.93,884.01 493.03,883.10 494.13,882.21 495.25,881.32 496.37,880.44 497.50,879.58 498.64,878.73 499.79,877.89 500.94,877.06 502.11,876.24 503.28,875.43 504.46,874.64 505.64,873.86 506.84,873.09 508.04,872.33 509.25,871.59 510.47,870.86 511.69,870.14 512.93,869.44 514.16,868.74 515.41,868.07 516.66,867.40 517.92,866.75 519.19,866.11" stroke="#000" stroke-width="2.6" fill="none" stroke-dasharray="6 10.1" stroke-linecap="round" stroke-linejoin="round"/>
<text x="126.6" y="1048.60" text-anchor="end">-40000</text>
<text x="126.6" y="1001.38" text-anchor="end">-30000</text>
<text x="126.6" y="954.16" text-anchor="end">-20000</text>
<text x="126.6" y="906.94" text-anchor="end">-10000</text>
<text x="126.6" y="859.72" text-anchor="end">0</text>
<text x="126.6" y="812.50" text-anchor="end">10000</text>
<text x="126.6" y="765.28" text-anchor="end">20000</text>
<text x="126.6" y="718.06" text-anchor="end">30000</text>
<text x="126.6" y="670.84" text-anchor="end">40000</text>
<text x="126.6" y="623.62" text-anchor="end">50000</text>
<text x="126.6" y="576.40" text-anchor="end">60000</text>
<text x="219.60" y="885.02" text-anchor="middle">200</text>
<text x="294.50" y="885.02" text-anchor="middle">210</text>
<text x="369.40" y="885.02" text-anchor="middle">220</text>
<text x="444.30" y="885.02" text-anchor="middle">230</text>
<text x="519.20" y="885.02" text-anchor="middle">240</text>
<text x="594.10" y="885.02" text-anchor="middle">250</text>
<text x="669.00" y="885.02" text-anchor="middle">260</text>
<text x="689.6" y="855.42" font-size="21">&#955; / nm</text>
<text transform="translate(53.2,267.80) rotate(-90)" text-anchor="middle" font-size="21.3">[&#952;] / deg cm<tspan font-size="13" dy="-7.5">2</tspan><tspan dy="7.5"> dmol</tspan><tspan font-size="13" dy="-7.5">-1</tspan></text>
<text transform="translate(53.2,806.20) rotate(-90)" text-anchor="middle" font-size="21.3">[&#952;] / deg cm<tspan font-size="13" dy="-7.5">2</tspan><tspan dy="7.5"> dmol</tspan><tspan font-size="13" dy="-7.5">-1</tspan></text>
<rect x="680.80" y="18.00" width="96.80" height="59.60" fill="#fff" stroke="#6a6a6a" stroke-width="1.35"/>
<path d="M686,33.20 H712.5" stroke="#e8141b" stroke-width="3.2" stroke-linecap="round"/>
<path d="M686.6,62.70 H692.6 M702.4,62.70 H708.8" stroke="#000" stroke-width="2.7" stroke-linecap="round"/>
<text x="716" y="39.90" font-size="20.9">CP-1</text>
<text x="716" y="69.60" font-size="20.6">Fitting</text>
<rect x="680.40" y="556.50" width="96.90" height="59.80" fill="#fff" stroke="#6a6a6a" stroke-width="1.35"/>
<path d="M686,571.90 H712.5" stroke="#2f4a9e" stroke-width="3.2" stroke-linecap="round"/>
<path d="M686.6,601.30 H692.6 M702.4,601.30 H708.8" stroke="#000" stroke-width="2.7" stroke-linecap="round"/>
<text x="716" y="578.40" font-size="20.9">CP-2</text>
<text x="716" y="608.10" font-size="20.6">Fitting</text>
<g font-weight="bold" fill="#000" style="stroke:#000"><text transform="translate(4.2,29.0) scale(0.88,1)" font-size="40">(</text><text transform="translate(17.7,30.3) scale(0.88,1)" font-size="41">a</text><text transform="translate(-1.2,567.9) scale(0.92,1)" font-size="38">(</text><text x="12.6" y="569.8" font-size="40">b</text><text transform="translate(39.1,567.9) scale(0.92,1)" font-size="38">)</text></g>
</g>
</svg>
</body></html>
